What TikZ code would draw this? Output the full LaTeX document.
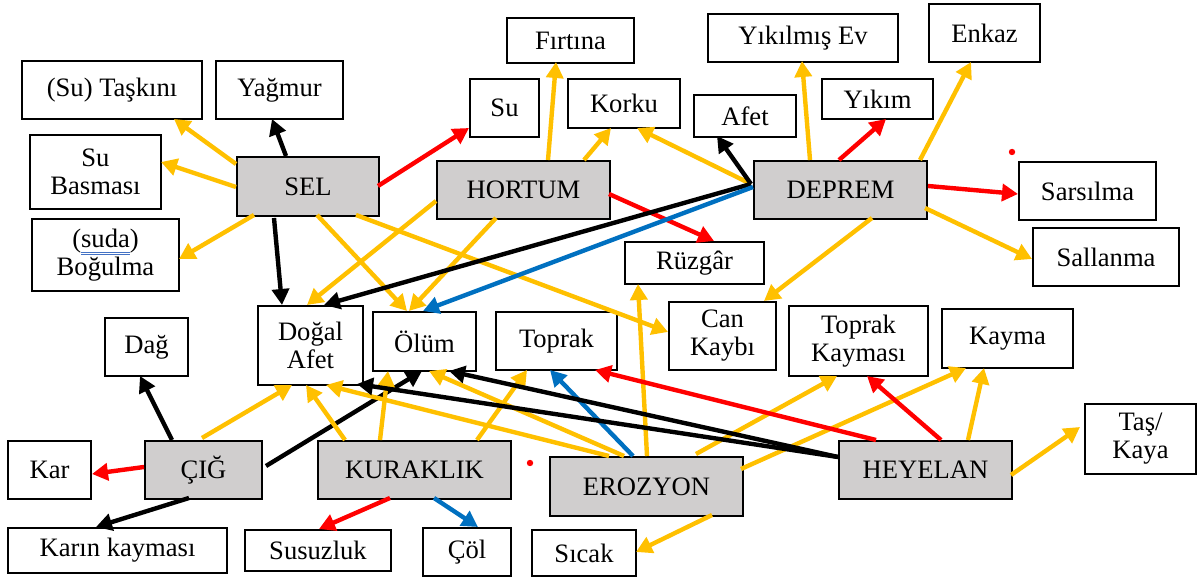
\documentclass[tikz,border=0pt]{standalone}
\usepackage{fontspec}
\setmainfont{Liberation Serif}
\usetikzlibrary{arrows.meta}
\definecolor{cy}{HTML}{FFC000}
\definecolor{cr}{HTML}{FF0000}
\definecolor{cb}{HTML}{0070C0}
\definecolor{cg}{HTML}{D0CECE}
\definecolor{ulblue}{HTML}{4472C4}
\newlength\ulw
\newcommand\bul[1]{\settowidth\ulw{#1}\rlap{\color{ulblue}\rule[-2.6pt]{\ulw}{0.3pt}\hspace{-\ulw}\rule[-3.4pt]{\ulw}{0.3pt}}#1}
\newcommand\bx[7]{\node[#1, minimum width={(#5-#3)*0.5pt}, minimum height={(#6-#4)*0.5pt}] (#2) at ({(#3+#5)/2},{(#4+#6)/2}) {#7};}
\newcommand\E[5]{\draw[#1] ([shift={(#3)}]#2.north west) -- ([shift={(#5)}]#4.north west);}
\begin{document}
\begin{tikzpicture}[x=0.5pt,y=-0.5pt,
  wbox/.style={draw=black, line width=1pt, fill=white, inner sep=1pt, align=center, font=\fontsize{13.3pt}{14pt}\selectfont, text=black},
  gbox/.style={wbox, fill=cg},
  arw/.style={line width=2.2pt, -{Triangle[length=8pt,width=8.5pt]}},
  ya/.style={arw, draw=cy},
  ra/.style={arw, draw=cr},
  bk/.style={arw, draw=black},
  bl/.style={arw, draw=cb}]
\useasboundingbox (0,0) rectangle (1198,581);
% nodes
\bx{wbox}{taskini}{22}{61}{202}{119}{(Su) Taşkını}
\bx{wbox}{yagmur}{216}{61}{343}{119}{Yağmur}
\bx{wbox}{subasmasi}{30}{135}{161}{209}{Su\\Basması}
\bx{gbox}{sel}{237}{157}{379}{216}{SEL}
\bx{wbox}{bogulma}{32}{219}{179}{291}{(\bul{suda})\\Boğulma}
\bx{wbox}{firtina}{507}{18}{634}{63}{Fırtına}
\bx{wbox}{su}{470}{79}{539}{137}{Su}
\bx{wbox}{korku}{568}{79}{680}{128}{Korku}
\bx{wbox}{afet}{694}{95}{796}{137}{Afet}
\bx{gbox}{hortum}{437}{161}{610}{219}{HORTUM}
\bx{wbox}{ruzgar}{625}{242}{764}{284}{Rüzgâr}
\bx{wbox}{yikilmis}{708}{14}{898}{62}{Yıkılmış Ev}
\bx{wbox}{enkaz}{929}{4}{1040}{62}{Enkaz}
\bx{wbox}{yikim}{822}{79}{933}{119}{Yıkım}
\bx{gbox}{deprem}{754}{161}{927}{219}{DEPREM}
\bx{wbox}{sarsilma}{1019}{162}{1156}{220}{Sarsılma}
\bx{wbox}{sallanma}{1033}{228}{1179}{286}{Sallanma}
\bx{wbox}{dogal}{258}{306}{363}{385}{Doğal\\Afet}
\bx{wbox}{dag}{105}{318}{188}{376}{Dağ}
\bx{wbox}{kar}{8}{441}{91}{499}{Kar}
\bx{gbox}{cig}{145}{441}{262}{499}{ÇIĞ}
\bx{gbox}{kuraklik}{318}{441}{511}{499}{KURAKLIK}
\bx{wbox}{karin}{8}{528}{227}{573}{Karın kayması}
\bx{wbox}{susuzluk}{245}{530}{391}{571}{Susuzluk}
\bx{wbox}{olum}{373}{312}{476}{371}{Ölüm}
\bx{wbox}{toprak}{496}{312}{617}{370}{Toprak}
\bx{wbox}{cankaybi}{669}{302}{776}{370}{Can\\Kaybı}
\bx{gbox}{erozyon}{550}{457}{743}{516}{EROZYON}
\bx{wbox}{col}{423}{528}{511}{576}{Çöl}
\bx{wbox}{sicak}{532}{530}{636}{576}{Sıcak}
\bx{wbox}{topkay}{789}{306}{928}{376}{Toprak\\Kayması}
\bx{wbox}{kayma}{942}{309}{1073}{368}{Kayma}
\bx{gbox}{heyelan}{839}{441}{1012}{499}{HEYELAN}
\bx{wbox}{taskaya}{1085}{404}{1196}{474}{Taş/\\Kaya}
% stray dots
\fill[cr] (1012,152) circle[radius=1.6pt];
\fill[cr] (530,463) circle[radius=1.6pt];
% SEL
\E{ya}{sel}{0,8}{taskini}{153,59}
\E{ya}{sel}{0,31}{subasmasi}{132,28}
\E{bk}{sel}{50,0}{yagmur}{57,59}
\E{ya}{sel}{18,59}{bogulma}{148,41}
\E{ra}{sel}{142,30}{su}{0,50}
\E{bk}{sel}{38,62}{dogal}{25,0}
\E{ya}{sel}{81,59}{olum}{35,0}
\E{ya}{sel}{120,59}{cankaybi}{0,31}
% HORTUM
\E{ya}{hortum}{112,0}{firtina}{50,45}
\E{ya}{hortum}{148,0}{korku}{44,50}
\E{ra}{hortum}{173,34}{ruzgar}{90,0}
\E{ya}{hortum}{0,41}{dogal}{50,0}
\E{ya}{hortum}{60,58}{olum}{37,0}
% DEPREM
\E{ya}{deprem}{-2,24}{korku}{70,50}
\E{bk}{deprem}{-2,24}{afet}{24,42}
\E{ya}{deprem}{57,0}{yikilmis}{95,48}
\E{ra}{deprem}{86,0}{yikim}{65,41}
\E{ya}{deprem}{167,0}{enkaz}{43,59}
\E{ra}{deprem}{175,26}{sarsilma}{0,33}
\E{ya}{deprem}{172,48}{sallanma}{0,32}
\E{ya}{deprem}{119,58}{cankaybi}{96,0}
\E{bk}{deprem}{-2,24}{dogal}{67,0}
\E{bl}{deprem}{0,27}{olum}{51,0}
% CIG
\E{bk}{cig}{28,0}{dag}{36,59}
\E{ra}{cig}{0,27}{kar}{85,34}
\E{bk}{cig}{45,58}{karin}{89,0}
\E{ya}{cig}{58,-2}{dogal}{35,80}
\E{bk}{cig}{122,26}{olum}{50,60}
% KURAKLIK
\E{ya}{kuraklik}{28,0}{dogal}{49,80}
\E{ya}{kuraklik}{63,0}{olum}{16,60}
\E{ya}{kuraklik}{160,0}{toprak}{32,59}
\E{ra}{kuraklik}{73,58}{susuzluk}{75,0}
\E{bl}{kuraklik}{117,58}{col}{56,0}
% EROZYON
\E{ya}{erozyon}{60,0}{dogal}{69,80}
\E{ya}{erozyon}{75,0}{olum}{57,60}
\E{bl}{erozyon}{84,0}{toprak}{55,59}
\E{ya}{erozyon}{98,0}{ruzgar}{14,43}
\E{ya}{erozyon}{147,-2}{topkay}{49,71}
\E{ya}{erozyon}{192,13}{kayma}{25,60}
\E{ya}{erozyon}{163,59}{sicak}{105,23}
% HEYELAN
\E{bk}{heyelan}{0,17}{dogal}{100,79}
\E{bk}{heyelan}{0,17}{olum}{77,60}
\E{ra}{heyelan}{38,0}{toprak}{100,59}
\E{ra}{heyelan}{103,0}{topkay}{79,71}
\E{ya}{heyelan}{130,0}{kayma}{43,60}
\E{ya}{heyelan}{173,35}{taskaya}{-4,24}
\end{tikzpicture}
\end{document}
